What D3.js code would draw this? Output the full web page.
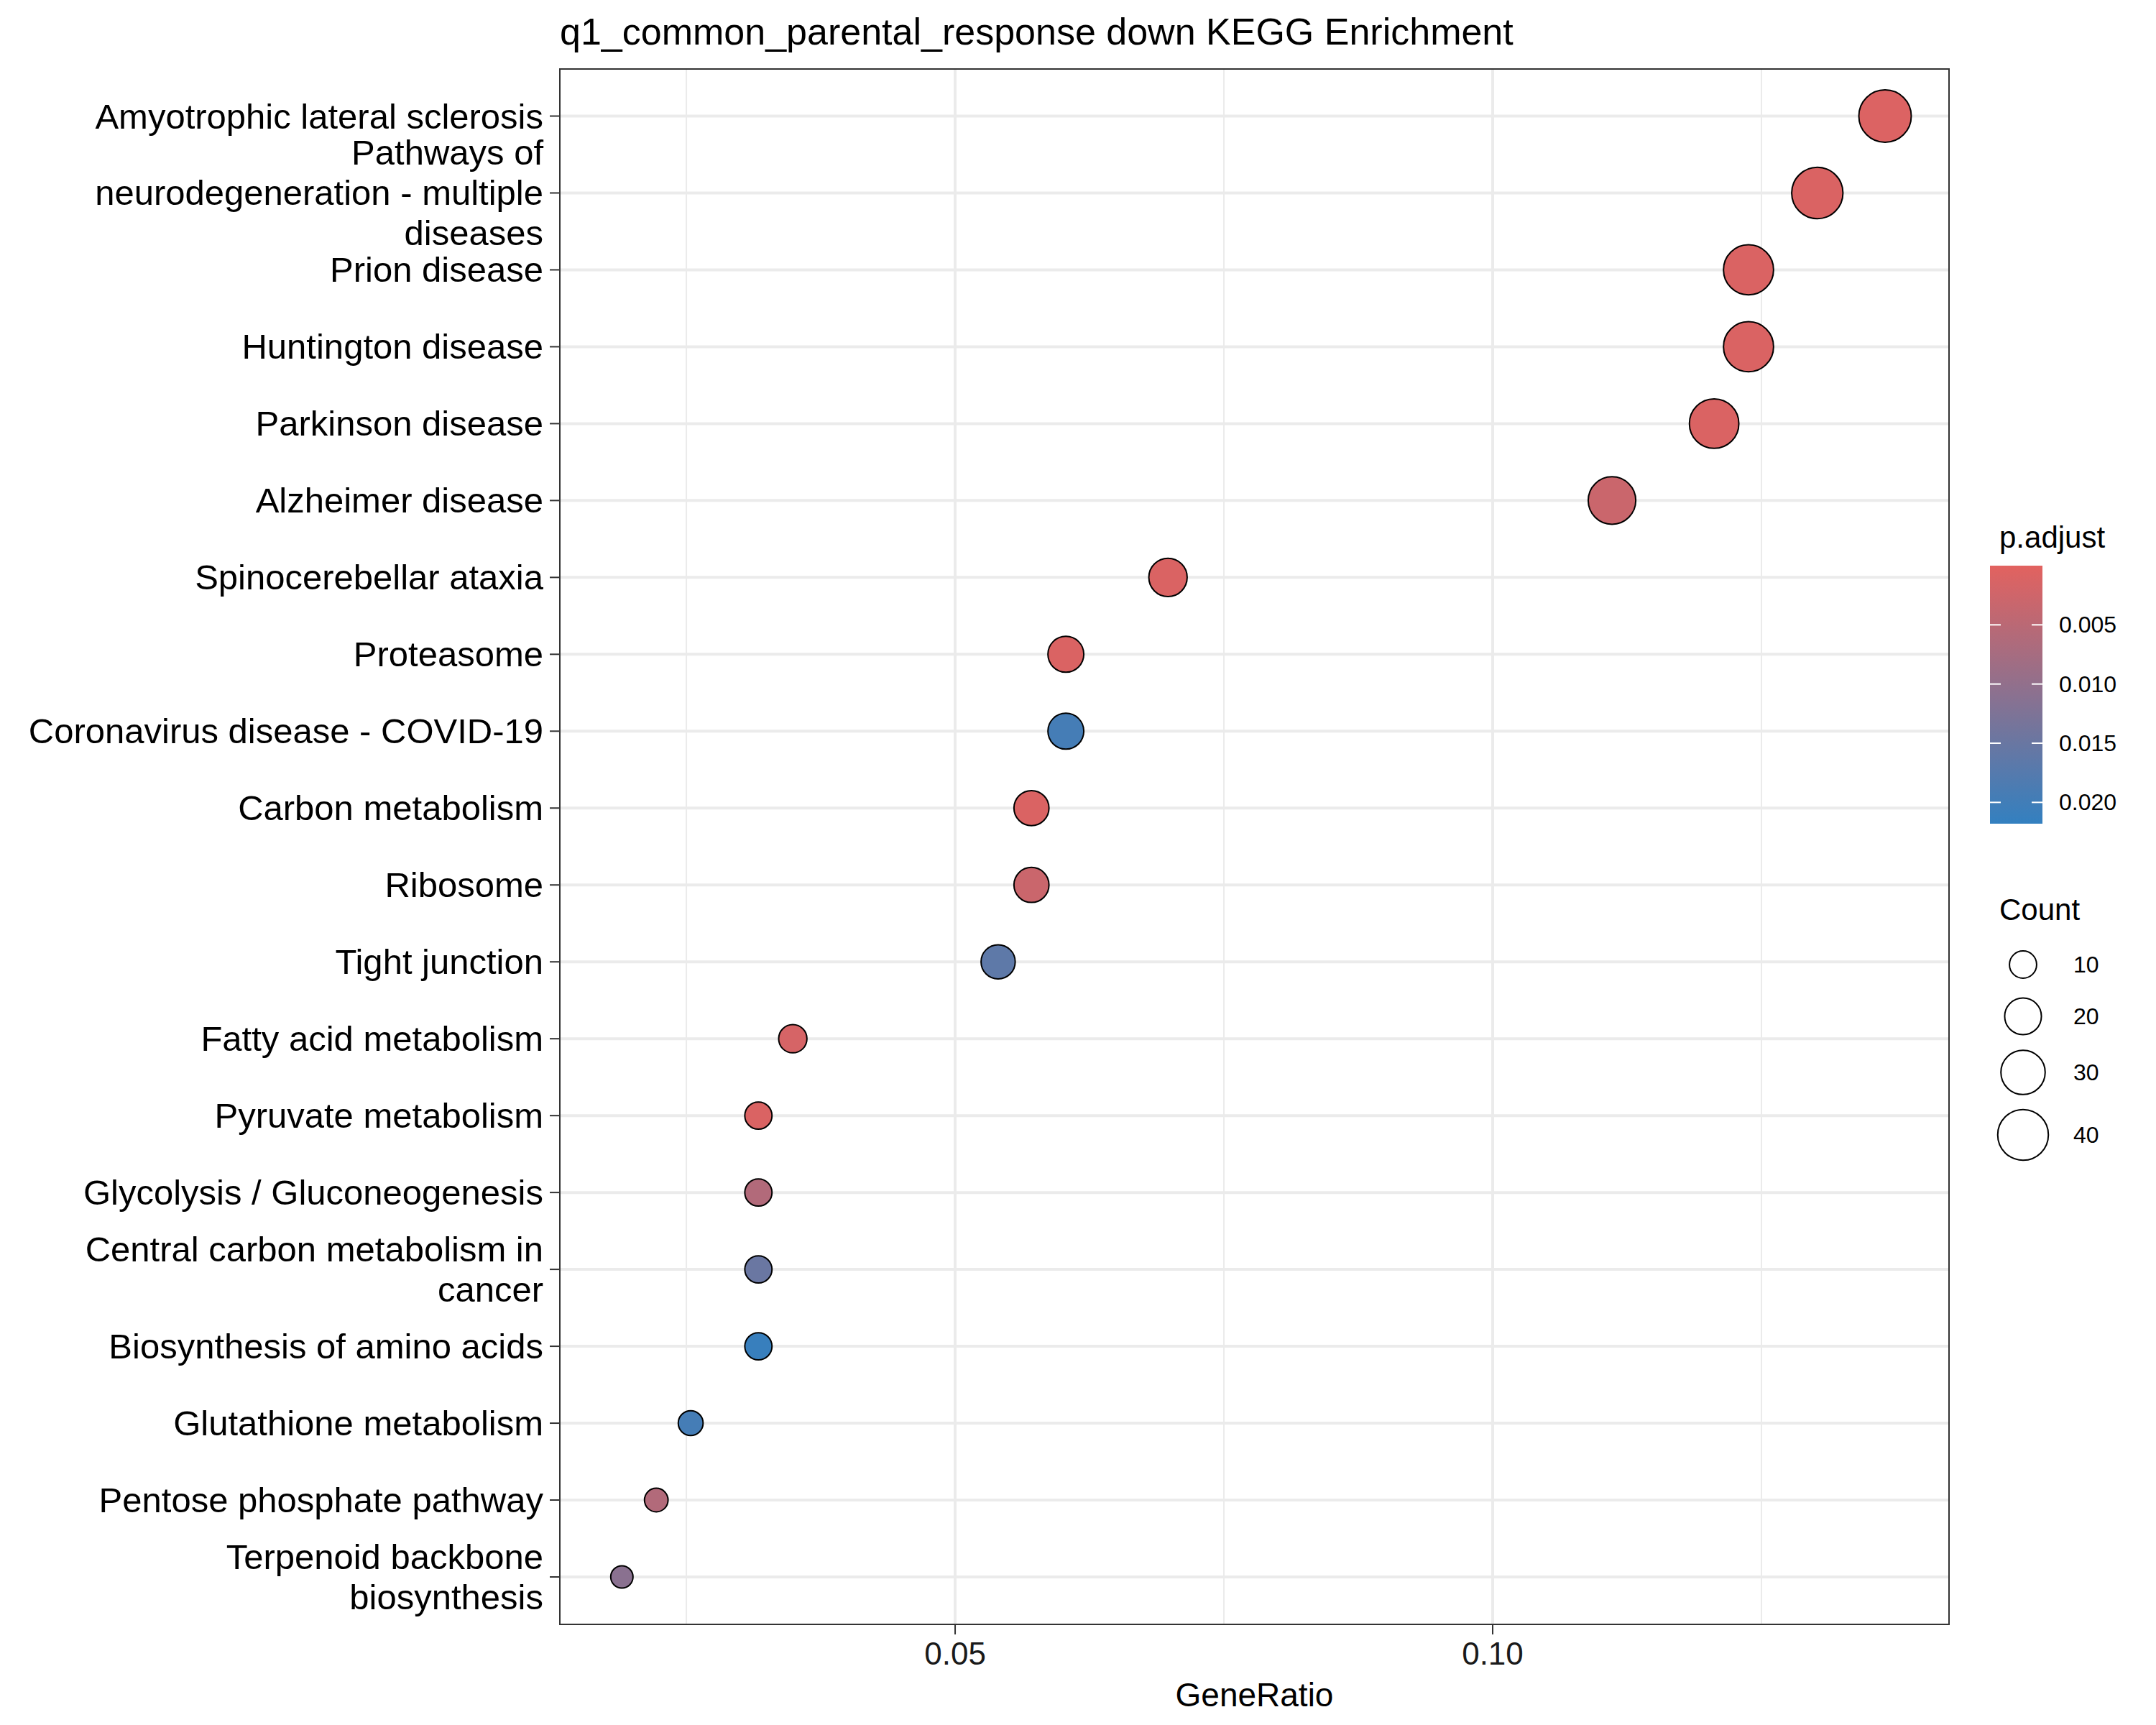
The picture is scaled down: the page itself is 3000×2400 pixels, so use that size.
<!DOCTYPE html><html><head><meta charset="utf-8"><script src="https://cdn.jsdelivr.net/npm/d3@7"></script>
<style>body{margin:0;background:#fff}text{font-family:"Liberation Sans",Arial,sans-serif}</style></head><body>
<svg id="c" width="3000" height="2400"></svg>
<script>
const categories=["Amyotrophic lateral sclerosis","Pathways of\nneurodegeneration - multiple\ndiseases","Prion disease","Huntington disease","Parkinson disease","Alzheimer disease","Spinocerebellar ataxia","Proteasome","Coronavirus disease - COVID-19","Carbon metabolism","Ribosome","Tight junction","Fatty acid metabolism","Pyruvate metabolism","Glycolysis / Gluconeogenesis","Central carbon metabolism in\ncancer","Biosynthesis of amino acids","Glutathione metabolism","Pentose phosphate pathway","Terpenoid backbone\nbiosynthesis"];
const counts=[43,41,39,39,38,35,22,19,19,18,18,17,11,10,10,10,10,8,7,6];
const geneRatio=[0.1365,0.1302,0.1238,0.1238,0.1206,0.1111,0.0698,0.0603,0.0603,0.0571,0.0571,0.054,0.0349,0.0317,0.0317,0.0317,0.0317,0.0254,0.0222,0.019];
const padj=[0.0008,0.001,0.001,0.001,0.001,0.003,0.001,0.001,0.0195,0.001,0.003,0.0165,0.0015,0.001,0.006,0.015,0.0212,0.0195,0.006,0.011];
const xTicks=[0.05,0.10], xMinor=[0.025,0.075,0.125];
const pTicks=[0.005,0.010,0.015,0.020], sizeTicks=[10,20,30,40];

const svg=d3.select("#c");
const L=779,R=2712,T=96,B=2260;
const x=d3.scaleLinear().domain([0.01323,0.14245]).range([L,R]);
const y=d3.scalePoint().domain(categories).range([161.5,2194]);
const col=d3.scaleLinear().domain([0,0.0218]).range(["#E2625F","#3380C0"]).interpolate(d3.interpolateRgb);
const rad=c=>Math.sqrt(63+29.5*c);

svg.append("rect").attr("x",L).attr("y",T).attr("width",R-L).attr("height",B-T).attr("fill","#fff");
const g=svg.append("g");
xMinor.forEach(v=>g.append("line").attr("x1",x(v)).attr("x2",x(v)).attr("y1",T).attr("y2",B).attr("stroke","#EBEBEB").attr("stroke-width",2));
xTicks.forEach(v=>g.append("line").attr("x1",x(v)).attr("x2",x(v)).attr("y1",T).attr("y2",B).attr("stroke","#EBEBEB").attr("stroke-width",4));
categories.forEach(c=>g.append("line").attr("x1",L).attr("x2",R).attr("y1",y(c)).attr("y2",y(c)).attr("stroke","#EBEBEB").attr("stroke-width",4));
categories.forEach((c,i)=>svg.append("circle").attr("cx",x(geneRatio[i])).attr("cy",y(c)).attr("r",rad(counts[i])).attr("fill",col(padj[i])).attr("stroke","#000").attr("stroke-width",2));
svg.append("rect").attr("x",L).attr("y",T).attr("width",R-L).attr("height",B-T).attr("fill","none").attr("stroke","#333").attr("stroke-width",2);

categories.forEach(c=>{
  const yy=y(c);
  svg.append("line").attr("x1",765).attr("x2",L).attr("y1",yy).attr("y2",yy).attr("stroke","#333").attr("stroke-width",2);
  const lines=c.split("\n"), lh=56;
  const t=svg.append("text").attr("text-anchor","end").attr("font-size",49).attr("fill","#000");
  lines.forEach((s,k)=>t.append("tspan").attr("x",756).attr("y",yy+17+(k-(lines.length-1)/2)*lh).text(s));
});
xTicks.forEach(v=>{
  svg.append("line").attr("x1",x(v)).attr("x2",x(v)).attr("y1",B).attr("y2",B+14).attr("stroke","#333").attr("stroke-width",2);
  svg.append("text").attr("x",x(v)).attr("y",2316).attr("text-anchor","middle").attr("font-size",44).attr("fill","#1a1a1a").text(d3.format(".2f")(v));
});
svg.append("text").attr("x",(L+R)/2).attr("y",2374).attr("text-anchor","middle").attr("font-size",46).text("GeneRatio");
svg.append("text").attr("x",L).attr("y",62).attr("font-size",52).text("q1_common_parental_response down KEGG Enrichment");

svg.append("text").attr("x",2782).attr("y",762).attr("font-size",42).text("p.adjust");
const defs=svg.append("defs"),gr=defs.append("linearGradient").attr("id","gr").attr("x1",0).attr("x2",0).attr("y1",0).attr("y2",1);
d3.range(0,1.01,0.1).forEach(t=>gr.append("stop").attr("offset",t).attr("stop-color",col(t*0.0218)));
const by=d3.scaleLinear().domain([0,0.0218]).range([787,1146]);
svg.append("rect").attr("x",2769).attr("y",787).attr("width",73).attr("height",359).attr("fill","url(#gr)");
pTicks.forEach(v=>{
  svg.append("line").attr("x1",2769).attr("x2",2784).attr("y1",by(v)).attr("y2",by(v)).attr("stroke","#fff").attr("stroke-width",2);
  svg.append("line").attr("x1",2827).attr("x2",2842).attr("y1",by(v)).attr("y2",by(v)).attr("stroke","#fff").attr("stroke-width",2);
  svg.append("text").attr("x",2865).attr("y",by(v)+11).attr("font-size",32).text(d3.format(".3f")(v));
});
svg.append("text").attr("x",2782).attr("y",1280).attr("font-size",42).text("Count");
const sy=[1342,1414,1492,1579];
sizeTicks.forEach((v,i)=>{
  svg.append("circle").attr("cx",2815).attr("cy",sy[i]).attr("r",rad(v)).attr("fill","none").attr("stroke","#000").attr("stroke-width",2);
  svg.append("text").attr("x",2885).attr("y",sy[i]+11).attr("font-size",32).text(v);
});
</script></body></html>
